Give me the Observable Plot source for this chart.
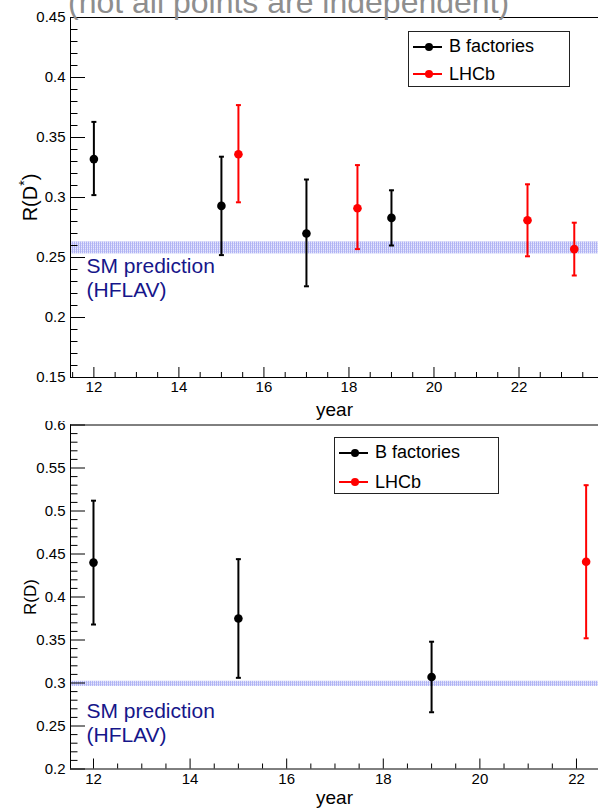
<!DOCTYPE html>
<html>
<head>
<meta charset="utf-8">
<script src="https://cdn.jsdelivr.net/npm/d3@7"></script>
<script src="https://cdn.jsdelivr.net/npm/@observablehq/plot@0.6"></script>
<style>
  body { margin: 0; background: #fff; }
  #root { position: relative; width: 598px; height: 809px; overflow: hidden; font-family: "Liberation Sans", Arial, sans-serif; background: #fff; }
  .pane { position: absolute; left: 0; }
  .pane svg { overflow: hidden; }
  .legend { position: absolute; border: 1px solid #222; background: #fff; box-sizing: border-box; }
  .legend .row { position: absolute; left: 0; height: 20px; display: flex; align-items: center; font-size: 18px; color: #000; white-space: nowrap; }
  .legend .row svg { margin-left: 4px; margin-right: 7px; }
  #title { position: absolute; left: 68px; top: -14px; font-size: 32px; line-height: 1; color: #8e8e8e; white-space: nowrap; }
</style>
</head>
<body>
<svg width="0" height="0" style="position:absolute">
  <defs>
    <pattern id="smhatch" width="2" height="2" patternUnits="userSpaceOnUse">
      <rect width="2" height="2" fill="#e6e7fc"></rect>
      <rect width="1" height="2" fill="#b0b3f4"></rect>
      <rect x="1" y="1" width="1" height="1" fill="#cfd1f8"></rect>
    </pattern>
  </defs>
</svg>
<div id="root">
  <div id="pane1" class="pane" style="top:0px"></div>
  <div id="pane2" class="pane" style="top:421px"></div>
  <div id="title">(not all points are independent)</div>
</div>
<script>
// ---------- data ----------
const seriesNames = ["B factories", "LHCb"];

// R(D*) measurements
const dstarExp   = ["B factories", "B factories", "LHCb", "B factories", "LHCb", "B factories", "LHCb", "LHCb"];
const dstarYear  = [12, 15, 15.4, 17, 18.2, 19, 22.2, 23.3];
const dstarValue = [0.332, 0.293, 0.336, 0.270, 0.291, 0.283, 0.281, 0.257];
const dstarErrHi = [0.031, 0.041, 0.041, 0.045, 0.036, 0.023, 0.030, 0.022];
const dstarErrLo = [0.030, 0.041, 0.040, 0.044, 0.034, 0.023, 0.030, 0.022];
const smDstarValue = 0.258;
const smDstarErr = 0.005;

// R(D) measurements
const dExp   = ["B factories", "B factories", "B factories", "LHCb"];
const dYear  = [12, 15, 19, 22.2];
const dValue = [0.440, 0.375, 0.307, 0.441];
const dErrHi = [0.072, 0.069, 0.041, 0.089];
const dErrLo = [0.072, 0.069, 0.041, 0.089];
const smDValue = 0.299;
const smDErr = 0.003;

// axis ticks
const yTicksDstar = [0.15, 0.2, 0.25, 0.3, 0.35, 0.4, 0.45];
const yTicksD = [0.2, 0.25, 0.3, 0.35, 0.4, 0.45, 0.5, 0.55, 0.6];
const xTickLabels = [12, 14, 16, 18, 20, 22];
const smLabel = "SM prediction\n(HFLAV)";

// ---------- drawing ----------
const rowsOf = (exp, year, value, hi, lo) =>
  year.map((y, i) => ({exp: exp[i], year: y, value: value[i], hi: hi[i], lo: lo[i]}));

const capSymbol = {draw(ctx) { ctx.moveTo(-2.5, 0); ctx.lineTo(2.5, 0); }};

function panel({rows, sm, xDomain, yDomain, yMajor, height, marginTop, marginBottom, yLabel, yLabelSize, smDy, yearDy}) {
  const yMinor = d3.range(Math.round(yDomain[0] * 100), Math.round(yDomain[1] * 100) + 1)
    .filter(v => v % 5 !== 0).map(v => v / 100);
  const xMinor = d3.range(Math.ceil(xDomain[0] * 2), Math.floor(xDomain[1] * 2) + 1)
    .filter(v => v % 4 !== 0).map(v => v / 2);
  const font = 15;
  return Plot.plot({
    width: 598, height, marginLeft: 70, marginRight: 0, marginTop, marginBottom,
    style: {fontFamily: "'Liberation Sans', Arial, sans-serif", background: "white", color: "black"},
    x: {domain: xDomain},
    y: {domain: yDomain},
    color: {domain: seriesNames, range: ["#000000", "#ff0000"]},
    marks: [
      Plot.rect([sm], {y1: d => d.value - d.err, y2: d => d.value + d.err, fill: "url(#smhatch)"}),
      Plot.text([sm], {y: d => d.value, frameAnchor: "left", text: () => smLabel, textAnchor: "start",
        lineAnchor: "top", dx: 16, dy: smDy, fontSize: 21, lineHeight: 1.15, fill: "#16168a"}),
      Plot.ruleX(rows, {x: "year", y1: d => d.value - d.lo, y2: d => d.value + d.hi, stroke: "exp", strokeWidth: 2}),
      Plot.dot(rows, {x: "year", y: d => d.value - d.lo, symbol: capSymbol, stroke: "exp", fill: "none", strokeWidth: 2}),
      Plot.dot(rows, {x: "year", y: d => d.value + d.hi, symbol: capSymbol, stroke: "exp", fill: "none", strokeWidth: 2}),
      Plot.dot(rows, {x: "year", y: "value", r: 4.3, fill: "exp", stroke: null}),
      // frame (top, bottom, left)
      Plot.ruleY(yDomain, {stroke: "#000", strokeWidth: 1}),
      Plot.ruleX([xDomain[0]], {stroke: "#000", strokeWidth: 1}),
      // y axis
      Plot.axisY(yMajor, {tickSize: 0, tickPadding: 5, fontSize: font, label: null, tickFormat: d => String(d)}),
      Plot.axisY(yMajor, {tickSize: -15, tickFormat: () => "", label: null}),
      Plot.axisY(yMinor, {tickSize: -7.5, tickFormat: () => "", label: null}),
      // x axis
      Plot.axisX(xTickLabels, {tickSize: 0, tickPadding: 4, fontSize: font, label: null, tickFormat: d => String(d)}),
      Plot.axisX(xTickLabels, {tickSize: -10, tickFormat: () => "", label: null}),
      Plot.axisX(xMinor, {tickSize: -5, tickFormat: () => "", label: null}),
      // axis titles
      Plot.text(["year"], {frameAnchor: "bottom", dy: yearDy, fontSize: 19, lineAnchor: "middle", text: d => d}),
      Plot.text([yLabel], {frameAnchor: "left", rotate: -90, dx: -40, fontSize: yLabelSize, lineAnchor: "middle", textAnchor: "middle", text: d => d})
    ]
  });
}

function superscriptStar(svg) {
  d3.select(svg).selectAll("text").each(function () {
    if (this.textContent === "R(D*)") {
      const t = d3.select(this);
      t.text(null);
      t.append("tspan").text("R(D");
      t.append("tspan").attr("font-size", "70%").attr("baseline-shift", "super").text("*");
      t.append("tspan").text(")");
    }
  });
}

function legend(container, left, topPx, width, height, rowTops) {
  const box = document.createElement("div");
  box.className = "legend";
  Object.assign(box.style, {left: left + "px", top: topPx + "px", width: width + "px", height: height + "px"});
  seriesNames.forEach((name, i) => {
    const color = i === 0 ? "#000" : "#ff0000";
    const row = document.createElement("div");
    row.className = "row";
    row.style.top = rowTops[i] + "px";
    row.innerHTML = `<svg width="29" height="12"><line x1="0" x2="29" y1="6" y2="6" stroke="${color}" stroke-width="2"/><circle cx="16" cy="6" r="4" fill="${color}"/></svg><span>${name}</span>`;
    box.appendChild(row);
  });
  container.appendChild(box);
}

const topPanel = panel({
  rows: rowsOf(dstarExp, dstarYear, dstarValue, dstarErrHi, dstarErrLo),
  sm: {value: smDstarValue, err: smDstarErr},
  xDomain: [11.45, 23.87], yDomain: [0.15, 0.45], yMajor: yTicksDstar,
  height: 421, marginTop: 17, marginBottom: 44, yLabel: "R(D*)", yLabelSize: 20, smDy: 8, yearDy: 32
});
superscriptStar(topPanel);
document.getElementById("pane1").appendChild(topPanel);

const bottomPanel = panel({
  rows: rowsOf(dExp, dYear, dValue, dErrHi, dErrLo),
  sm: {value: smDValue, err: smDErr},
  xDomain: [11.524, 22.456], yDomain: [0.2, 0.6], yMajor: yTicksD,
  height: 388, marginTop: 3.5, marginBottom: 40.5, yLabel: "R(D)", yLabelSize: 17, smDy: 17, yearDy: 29
});
document.getElementById("pane2").appendChild(bottomPanel);

const rootEl = document.getElementById("root");
legend(rootEl, 408, 31, 162, 56, [4.7, 32.3]);
legend(rootEl, 334, 437, 165, 57, [4.7, 34]);
</script>
</body>
</html>
